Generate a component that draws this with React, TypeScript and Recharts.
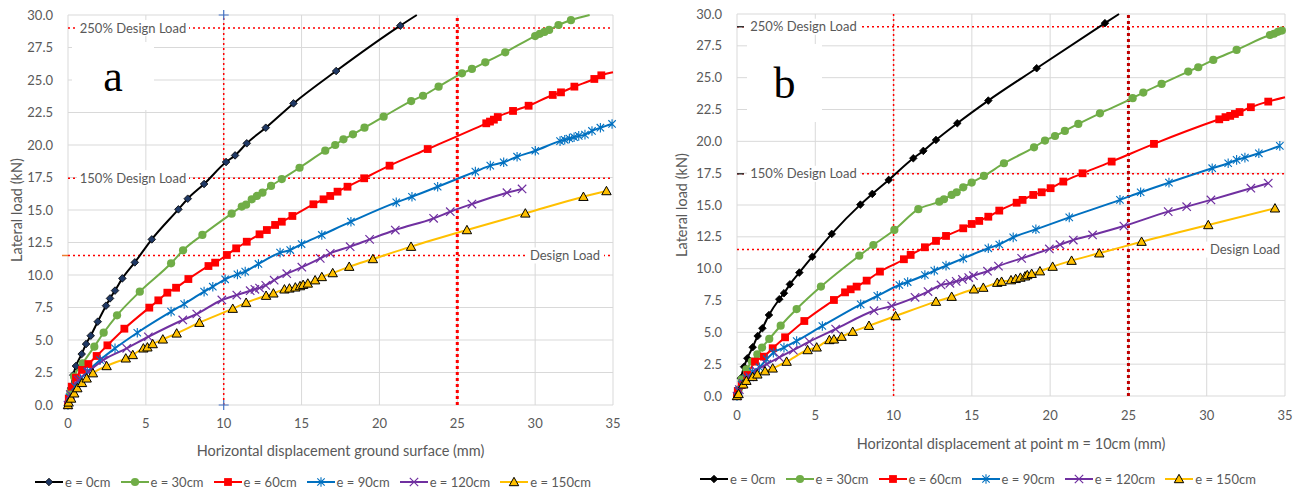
import React from "react";
import { LineChart, Line, XAxis, YAxis, CartesianGrid, ReferenceLine, ReferenceDot, Legend } from "recharts";

type Pt = [number, number];

const xTicks = [0, 5, 10, 15, 20, 25, 30, 35];
const yTicks = [0, 2.5, 5, 7.5, 10, 12.5, 15, 17.5, 20, 22.5, 25, 27.5, 30];

const seriesNames = ["e = 0cm", "e = 30cm", "e = 60cm", "e = 90cm", "e = 120cm", "e = 150cm"];

// design load levels (kN) and marker displacements (mm)
const load250 = 29;
const load150 = 17.45;
const loadDesign = 11.5;
const dispLines = [10, 25];

// panel a: displacement at ground surface
const aE0: Pt[] = [[0, 0], [0.1, 0.6], [0.2, 1.3], [0.34, 2.3], [0.51, 3.0], [0.88, 3.92], [1.16, 4.69], [1.46, 5.33], [1.91, 6.41], [2.44, 7.64], [2.7, 8.2], [3.02, 8.8], [3.49, 9.74], [4.29, 10.97], [5.38, 12.74], [7.09, 15.05], [7.69, 15.87], [8.74, 17.0], [10.15, 18.69], [10.73, 19.2], [11.48, 20.13], [12.7, 21.33], [14.48, 23.2], [17.22, 25.69], [21.34, 29.18], [22.4, 30]];
const aE30: Pt[] = [[0, 0], [0.15, 1.0], [0.39, 2.18], [0.94, 3.2], [1.69, 4.49], [2.29, 5.56], [3.15, 6.9], [4.61, 8.72], [6.62, 10.9], [7.39, 11.9], [8.63, 13.08], [10.51, 14.72], [11.16, 15.26], [11.44, 15.41], [11.8, 15.82], [12.13, 16.08], [12.49, 16.33], [13.04, 16.85], [13.73, 17.38], [14.87, 18.25], [16.52, 19.56], [17.16, 20.0], [17.69, 20.44], [18.3, 20.82], [19.04, 21.33], [20.27, 22.18], [22.04, 23.38], [22.8, 23.79], [23.8, 24.49], [25.3, 25.51], [25.94, 25.85], [26.8, 26.36], [28.08, 27.13], [30.0, 28.38], [30.3, 28.55], [30.6, 28.7], [30.9, 28.85], [31.5, 29.23], [32.3, 29.6], [33.5, 30]];
const aE60: Pt[] = [[0, 0], [0.05, 0.5], [0.24, 1.41], [0.51, 2.1], [0.9, 2.7], [1.31, 3.15], [1.84, 3.77], [2.53, 4.59], [3.62, 5.87], [5.22, 7.49], [5.8, 8.05], [6.38, 8.64], [6.94, 9.02], [7.73, 9.69], [9.02, 10.69], [9.45, 10.95], [10.2, 11.54], [10.8, 12.05], [11.48, 12.56], [12.3, 13.13], [12.77, 13.46], [13.3, 13.85], [13.73, 14.1], [14.41, 14.54], [15.76, 15.44], [16.41, 15.82], [16.84, 16.08], [17.31, 16.41], [17.95, 16.79], [19.02, 17.44], [20.65, 18.41], [23.1, 19.69], [26.86, 21.67], [27.1, 21.8], [27.35, 21.95], [27.6, 22.15], [28.58, 22.62], [29.58, 23.02], [31.13, 23.85], [31.66, 24.05], [32.52, 24.49], [33.8, 25.08], [34.25, 25.36], [35, 25.6]];
const aE90: Pt[] = [[0, 0], [0.1, 0.6], [0.45, 1.41], [0.8, 2.0], [1.24, 2.56], [2.06, 3.46], [3.02, 4.36], [4.45, 5.56], [6.62, 7.18], [7.46, 7.77], [8.74, 8.72], [9.3, 9.1], [10.09, 9.67], [10.88, 10.05], [11.38, 10.26], [12.23, 10.85], [13.62, 11.72], [14.27, 11.92], [15.0, 12.38], [16.3, 13.08], [18.17, 14.1], [21.08, 15.59], [22.09, 16.02], [23.74, 16.79], [26.16, 17.95], [27.12, 18.41], [27.98, 18.67], [28.84, 19.1], [30.01, 19.56], [31.6, 20.3], [31.9, 20.4], [32.2, 20.5], [32.5, 20.6], [32.8, 20.7], [33.2, 20.8], [33.65, 21.08], [34.19, 21.33], [34.94, 21.62]];
const aE120: Pt[] = [[0, 0], [0.15, 0.8], [0.66, 1.92], [1.31, 2.56], [2.27, 3.46], [3.77, 4.36], [5.16, 5.25], [7.37, 6.54], [8.27, 7.0], [9.88, 8.08], [10.84, 8.46], [11.7, 8.79], [12.0, 8.9], [12.3, 9.0], [12.7, 9.2], [13.24, 9.6], [14.05, 10.1], [15.02, 10.6], [16.2, 11.28], [16.84, 11.67], [18.12, 12.18], [19.37, 12.74], [21.02, 13.46], [23.48, 14.36], [24.55, 14.87], [25.94, 15.46], [28.19, 16.33], [29.16, 16.62]];
const aE150: Pt[] = [[0, 0], [0.04, 0.2], [0.2, 0.5], [0.4, 0.9], [0.6, 1.3], [0.9, 1.7], [1.2, 2.05], [1.6, 2.45], [2.48, 3.0], [3.71, 3.59], [4.16, 3.85], [4.84, 4.36], [5.1, 4.44], [5.44, 4.69], [6.09, 5.05], [6.98, 5.51], [8.44, 6.33], [10.58, 7.41], [11.44, 7.87], [12.72, 8.41], [13.19, 8.59], [13.9, 8.9], [14.22, 8.97], [14.6, 9.05], [14.9, 9.15], [15.1, 9.25], [15.4, 9.35], [15.87, 9.6], [16.3, 9.85], [17.0, 10.15], [18.06, 10.64], [19.58, 11.23], [22.03, 12.18], [25.62, 13.46], [29.37, 14.74], [33.1, 16.02], [34.58, 16.46]];

// panel b: displacement at point m = 10cm
const bE0: Pt[] = [[0, 0], [0.1, 0.5], [0.25, 1.4], [0.45, 2.3], [0.66, 2.96], [1.0, 3.83], [1.32, 4.71], [1.62, 5.32], [2.04, 6.36], [2.7, 7.6], [3.0, 8.07], [3.38, 8.77], [3.98, 9.69], [4.81, 10.94], [6.05, 12.73], [7.88, 15.03], [8.64, 15.87], [9.69, 16.97], [11.26, 18.67], [11.9, 19.25], [12.71, 20.11], [14.07, 21.42], [16.05, 23.2], [19.14, 25.74], [23.5, 29.28], [24.4, 30]];
const bE30: Pt[] = [[0, 0], [0.1, 0.5], [0.3, 1.3], [0.6, 2.1], [0.95, 2.7], [1.3, 3.27], [1.6, 3.8], [2.06, 4.48], [2.79, 5.52], [3.81, 6.83], [5.36, 8.59], [7.81, 11.02], [8.71, 11.86], [10.05, 13.04], [11.58, 14.67], [12.92, 15.26], [13.22, 15.45], [13.71, 15.79], [14.03, 16.0], [14.45, 16.39], [14.99, 16.76], [15.77, 17.28], [17.05, 18.28], [18.97, 19.53], [19.67, 20.06], [20.31, 20.42], [20.94, 20.82], [21.8, 21.37], [23.18, 22.2], [25.27, 23.39], [25.95, 23.83], [27.12, 24.51], [28.82, 25.48], [29.46, 25.82], [30.42, 26.39], [31.91, 27.18], [34.04, 28.35], [34.3, 28.45], [34.55, 28.6], [34.8, 28.7]];
const bE60: Pt[] = [[0, 0], [0.05, 0.4], [0.3, 0.86], [0.66, 1.65], [1.15, 2.7], [1.72, 3.09], [2.28, 3.75], [3.07, 4.61], [4.3, 5.89], [6.19, 7.54], [6.9, 8.14], [7.26, 8.38], [7.64, 8.59], [8.28, 9.06], [9.13, 9.77], [10.66, 10.74], [11.09, 11.08], [12.0, 11.68], [12.71, 12.18], [13.35, 12.57], [14.45, 13.17], [14.99, 13.51], [15.47, 13.75], [16.05, 14.08], [16.75, 14.56], [17.86, 15.18], [18.24, 15.4], [18.92, 15.79], [19.46, 16.0], [20.03, 16.32], [20.84, 16.84], [22.07, 17.49], [23.93, 18.41], [26.63, 19.8], [30.8, 21.73], [31.2, 21.9], [31.5, 22.0], [31.8, 22.15], [32.1, 22.3], [32.82, 22.68], [33.93, 23.12], [35, 23.46]];
const bE90: Pt[] = [[0, 0], [0.1, 0.4], [0.3, 0.9], [0.6, 1.4], [1.0, 1.9], [1.43, 2.25], [1.9, 2.9], [2.32, 3.4], [3.0, 3.8], [3.81, 4.32], [5.45, 5.5], [7.9, 7.2], [8.96, 7.86], [10.37, 8.72], [10.9, 8.95], [12.0, 9.5], [12.6, 9.85], [13.35, 10.24], [14.45, 10.81], [16.05, 11.6], [16.75, 11.9], [17.64, 12.46], [19.09, 13.09], [21.22, 14.03], [24.46, 15.4], [25.78, 16.0], [27.59, 16.76], [30.35, 17.89], [31.37, 18.28], [31.91, 18.54], [32.44, 18.72], [33.33, 19.06], [34.67, 19.64]];
const bE120: Pt[] = [[0, 0], [0.15, 0.5], [0.4, 1.0], [0.8, 1.5], [1.21, 1.99], [1.9, 2.5], [2.7, 3.04], [3.6, 3.6], [4.62, 4.27], [6.3, 5.26], [8.75, 6.7], [9.88, 7.07], [11.37, 7.75], [12.2, 8.2], [13.03, 8.72], [13.6, 8.85], [14.0, 9.0], [14.4, 9.15], [14.8, 9.3], [15.1, 9.45], [16.0, 9.8], [16.7, 10.2], [18.18, 10.81], [19.95, 11.55], [20.63, 11.88], [21.48, 12.25], [22.71, 12.65], [24.71, 13.35], [27.54, 14.48], [28.72, 14.87], [30.27, 15.4], [32.82, 16.32], [33.93, 16.71]];
const bE150: Pt[] = [[0, 0], [0.1, 0.16], [0.4, 0.92], [0.6, 1.2], [1.0, 1.5], [1.3, 1.7], [1.79, 1.95], [2.28, 2.17], [3.17, 2.7], [4.51, 3.61], [5.09, 3.82], [5.9, 4.4], [6.19, 4.45], [6.68, 4.66], [7.39, 5.05], [8.43, 5.52], [10.13, 6.28], [12.71, 7.41], [13.71, 7.8], [15.13, 8.38], [15.73, 8.51], [16.62, 8.9], [16.9, 8.98], [17.5, 9.1], [17.8, 9.2], [18.1, 9.3], [18.4, 9.4], [18.54, 9.5], [18.82, 9.6], [19.35, 9.8], [20.16, 10.16], [21.37, 10.63], [23.14, 11.21], [25.84, 12.12], [30.1, 13.43], [34.36, 14.74]];

const seriesStyle = [
    { color: "#000000", shape: "diamond" },
    { color: "#70ad47", shape: "circle" },
    { color: "#ff0000", shape: "square" },
    { color: "#0070c0", shape: "asterisk" },
    { color: "#7030a0", shape: "x" },
    { color: "#ffc000", shape: "triangle" },
];

const textGray = "#595959";

function marker(shape: string, cx: number, cy: number, color: string, diamondFill: string, key?: string) {
    switch (shape) {
        case "diamond":
            return <path key={key} d={`M${cx},${cy - 3.8}L${cx + 3.8},${cy}L${cx},${cy + 3.8}L${cx - 3.8},${cy}Z`} fill={diamondFill} stroke="#000" strokeWidth={0.8} />;
        case "circle":
            return <circle key={key} cx={cx} cy={cy} r={4.1} fill={color} />;
        case "square":
            return <rect key={key} x={cx - 3.9} y={cy - 3.9} width={7.8} height={7.8} fill={color} />;
        case "asterisk":
            return <path key={key} d={`M${cx - 3.7},${cy - 3.7}L${cx + 3.7},${cy + 3.7}M${cx - 3.7},${cy + 3.7}L${cx + 3.7},${cy - 3.7}M${cx},${cy - 4.8}V${cy + 4.8}`} stroke={color} strokeWidth={1.1} fill="none" />;
        case "x":
            return <path key={key} d={`M${cx - 4.2},${cy - 4.2}L${cx + 4.2},${cy + 4.2}M${cx - 4.2},${cy + 4.2}L${cx + 4.2},${cy - 4.2}`} stroke={color} strokeWidth={1.2} fill="none" />;
        default:
            return <path key={key} d={`M${cx},${cy - 4.7}L${cx + 4.7},${cy + 3.7}L${cx - 4.7},${cy + 3.7}Z`} fill={color} stroke="#000" strokeWidth={1} />;
    }
}

function LoadLabel(props: any) {
    const { viewBox, text, side, boxW, pad, dash } = props;
    const y = viewBox.y;
    const left = viewBox.x;
    const right = viewBox.x + viewBox.width;
    const bx = side === "left" ? left + pad : right - pad - boxW;
    return (
        <g>
            <rect x={bx} y={y - 8} width={boxW} height={16} fill="#fff" />
            <text x={bx + boxW / 2} y={y + 4.5} textAnchor="middle" fontSize={13} fill={textGray}>{text}</text>
            {dash && <line x1={dash[0]} x2={dash[1]} y1={y} y2={y} stroke={dash[2]} strokeWidth={1.5} />}
        </g>
    );
}

const plusShape = (p: any) => (
    <path d={`M${p.cx - 5},${p.cy}H${p.cx + 5}M${p.cx},${p.cy - 5}V${p.cy + 5}`} stroke="#4472c4" strokeWidth={1.2} />
);

interface PanelProps {
    left: number;
    width: number;
    series: Pt[][];
    xTitle: string;
    letter: string;
    margin: { top: number; right: number; left: number; bottom: number };
    yAxisWidth: number;
    yTitleOffset: number;
    xTickMargin: number;
    xTitleOffset: number;
    diamondFill: string;
    far25: string;
    letterBox: { left: number; top: number; width: number; height: number };
    legendPos: { left: number; top: number };
    labels: any;
    crossMarks: boolean;
}

function Panel(p: PanelProps) {
    const renderLegend = (props: any) => {
        const items = [...(props.payload || [])].sort(
            (a: any, b: any) => seriesNames.indexOf(a.value) - seriesNames.indexOf(b.value)
        );
        return (
            <div style={{ display: "flex", fontSize: 13, color: textGray, whiteSpace: "nowrap" }}>
                {items.map((entry: any) => {
                    const st = seriesStyle[seriesNames.indexOf(entry.value)];
                    return (
                        <div key={entry.value} style={{ display: "flex", alignItems: "center", marginRight: 10 }}>
                            <svg width={28} height={12}>
                                <line x1={0} y1={6} x2={28} y2={6} stroke={st.color} strokeWidth={2} />
                                {marker(st.shape, 14, 6, st.color, p.diamondFill)}
                            </svg>
                            <span style={{ marginLeft: 2 }}>{entry.value}</span>
                        </div>
                    );
                })}
            </div>
        );
    };

    return (
        <div style={{ position: "absolute", left: p.left, top: 0, width: p.width, height: 495 }}>
            <LineChart width={p.width} height={495} margin={p.margin}>
                <CartesianGrid stroke="#d9d9d9" />
                <XAxis
                    type="number"
                    dataKey="x"
                    domain={[0, 35]}
                    ticks={xTicks}
                    axisLine={false}
                    tickLine={false}
                    tickMargin={p.xTickMargin}
                    height={60}
                    tick={{ fill: textGray, fontSize: 13 }}
                    label={{ value: p.xTitle, position: "insideBottom", offset: p.xTitleOffset, fill: textGray, fontSize: 14.5 }}
                />
                <YAxis
                    type="number"
                    domain={[0, 30]}
                    ticks={yTicks}
                    axisLine={false}
                    tickLine={false}
                    tickMargin={9}
                    width={p.yAxisWidth}
                    tickFormatter={(v: number) => v.toFixed(1)}
                    tick={{ fill: textGray, fontSize: 13 }}
                    label={{ value: "Lateral load (kN)", angle: -90, position: "insideLeft", offset: p.yTitleOffset, fill: textGray, fontSize: 14.5, style: { textAnchor: "middle" } }}
                />
                <ReferenceLine y={load250} stroke="#ff0000" strokeWidth={1.5} strokeDasharray="2 3" label={<LoadLabel text="250% Design Load" {...p.labels.l250} />} />
                <ReferenceLine y={load150} stroke="#ff0000" strokeWidth={1.5} strokeDasharray="2 3" label={<LoadLabel text="150% Design Load" {...p.labels.l150} />} />
                <ReferenceLine y={loadDesign} stroke="#ff0000" strokeWidth={1.5} strokeDasharray="2 3" label={<LoadLabel text="Design Load" {...p.labels.ld} />} />
                <ReferenceLine x={dispLines[0]} stroke="#ff0000" strokeWidth={1.5} strokeDasharray="2 3" />
                <ReferenceLine x={dispLines[1]} stroke={p.far25} strokeWidth={3} strokeDasharray="3 3" />
                {p.crossMarks && <ReferenceDot x={dispLines[0]} y={30} shape={plusShape} />}
                {p.crossMarks && <ReferenceDot x={dispLines[0]} y={0} shape={plusShape} />}
                {p.series.map((pts, i) => {
                    const st = seriesStyle[i];
                    const name = seriesNames[i];
                    return (
                        <Line
                            key={name}
                            name={name}
                            data={pts.map(([x, y]) => ({ x, y }))}
                            dataKey="y"
                            type="monotone"
                            stroke={st.color}
                            strokeWidth={2}
                            isAnimationActive={false}
                            activeDot={false}
                            dot={(d: any) => {
                                const k = `${name}-${d.index}`;
                                if (d.payload.y >= 30 || d.payload.x >= 35) return <g key={k} />;
                                return marker(st.shape, d.cx, d.cy, st.color, p.diamondFill, k);
                            }}
                        />
                    );
                })}
                <Legend
                    verticalAlign="middle"
                    align="center"
                    layout="horizontal"
                    content={renderLegend}
                    wrapperStyle={{ left: p.legendPos.left, top: p.legendPos.top, width: "auto" }}
                />
            </LineChart>
            <div
                style={{
                    position: "absolute",
                    left: p.letterBox.left,
                    top: p.letterBox.top,
                    width: p.letterBox.width,
                    height: p.letterBox.height,
                    background: "#fff",
                    fontFamily: "'Liberation Serif', 'DejaVu Serif', serif",
                    fontSize: 44,
                    color: "#000",
                    display: "flex",
                    alignItems: "center",
                    justifyContent: "center",
                }}
            >
                {p.letter}
            </div>
        </div>
    );
}

export default function App() {
    return (
        <div style={{ position: "absolute", left: 0, top: 0, width: 1304, height: 495, background: "#fff", fontFamily: "Lato, 'Open Sans', sans-serif" }}>
            <Panel
                left={0}
                width={650}
                series={[aE0, aE30, aE60, aE90, aE120, aE150]}
                xTitle="Horizontal displacement ground surface (mm)"
                letter="a"
                margin={{ top: 15, right: 37, left: 0, bottom: 30 }}
                yAxisWidth={68}
                yTitleOffset={17}
                xTickMargin={8}
                xTitleOffset={9}
                diamondFill="#1f3864"
                far25="#ff0000"
                letterBox={{ left: 72, top: 42, width: 82, height: 68 }}
                legendPos={{ left: 35, top: 474 }}
                crossMarks={true}
                labels={{
                    l250: { side: "left", pad: 9, boxW: 112 },
                    l150: { side: "left", pad: 9, boxW: 112 },
                    ld: { side: "right", pad: 9, boxW: 78, dash: [62, 68, "#ed7d31"] },
                }}
            />
            <Panel
                left={660}
                width={644}
                series={[bE0, bE30, bE60, bE90, bE120, bE150]}
                xTitle="Horizontal displacement at point m = 10cm (mm)"
                letter="b"
                margin={{ top: 14, right: 19, left: 0, bottom: 39 }}
                yAxisWidth={77}
                yTitleOffset={22}
                xTickMargin={9}
                xTitleOffset={7}
                diamondFill="#000000"
                far25="#c00000"
                letterBox={{ left: 87, top: 44, width: 75, height: 78 }}
                legendPos={{ left: 40, top: 471 }}
                crossMarks={false}
                labels={{
                    l250: { side: "left", pad: 10, boxW: 113, dash: [77, 84, "#333"] },
                    l150: { side: "left", pad: 10, boxW: 113, dash: [77, 84, "#333"] },
                    ld: { side: "right", pad: 1, boxW: 78 },
                }}
            />
        </div>
    );
}
